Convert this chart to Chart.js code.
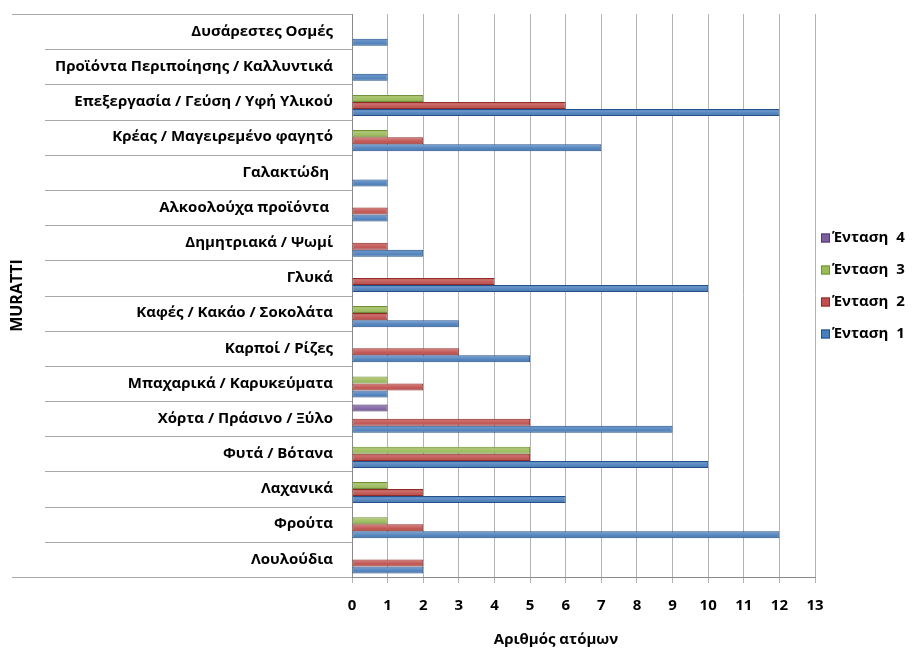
<!DOCTYPE html>
<html>
<head>
<meta charset="utf-8">
<script src="https://cdn.jsdelivr.net/npm/chart.js@4.4.1/dist/chart.umd.min.js"></script>
<style>
  html, body { margin: 0; padding: 0; background: #ffffff; }
  #wrap { width: 913px; height: 657px; }
</style>
</head>
<body>
<div id="wrap"><canvas id="c" width="913" height="657"></canvas></div>
<script>
// Odour categories, listed top to bottom
const categories = [
  'Δυσάρεστες Οσμές',
  'Προϊόντα Περιποίησης / Καλλυντικά',
  'Επεξεργασία / Γεύση / Υφή Υλικού',
  'Κρέας / Μαγειρεμένο φαγητό',
  'Γαλακτώδη ',
  'Αλκοολούχα προϊόντα ',
  'Δημητριακά / Ψωμί',
  'Γλυκά',
  'Καφές / Κακάο / Σοκολάτα',
  'Καρποί / Ρίζες',
  'Μπαχαρικά / Καρυκεύματα',
  'Χόρτα / Πράσινο / Ξύλο',
  'Φυτά / Βότανα',
  'Λαχανικά',
  'Φρούτα',
  'Λουλούδια'
];

// Number of people per intensity level
const entasi1 = [1, 1, 12, 7, 1, 1, 2, 10, 3, 5, 1, 9, 10, 6, 12, 2];
const entasi2 = [0, 0, 6, 2, 0, 1, 1, 4, 1, 3, 2, 5, 5, 2, 2, 2];
const entasi3 = [0, 0, 2, 1, 0, 0, 0, 0, 1, 0, 1, 0, 5, 1, 1, 0];
const entasi4 = [0, 0, 0, 0, 0, 0, 0, 0, 0, 0, 0, 1, 0, 0, 0, 0];

const seriesNames = ['Ένταση  4', 'Ένταση  3', 'Ένταση  2', 'Ένταση  1'];
const xMin = 0;
const xMax = 13;
const xStep = 1;

const yTitle = 'MURATTI';
const xTitle = 'Αριθμός ατόμων';

const FONT = "'Open Sans', 'DejaVu Sans', sans-serif";
const fills   = ['#7d5fa0', '#9bbb59', '#c0504d', '#4a7ebb'];
const borders = ['#4e3a6e', '#71903a', '#8f2c2a', '#24518d'];
const lineGrey = '#a8a8a8';

// Soft shading on bars, outer table lines, legend and x-axis title
const decorations = {
  id: 'decorations',
  afterDatasetsDraw(chart) {
    const ctx = chart.ctx;
    ctx.save();
    chart.data.datasets.forEach((ds, di) => {
      const meta = chart.getDatasetMeta(di);
      meta.data.forEach(bar => {
        const w = bar.x - bar.base;
        if (Math.abs(w) < 0.5) return;
        const top = bar.y - bar.height / 2;
        const g = ctx.createLinearGradient(0, top, 0, top + bar.height);
        g.addColorStop(0, 'rgba(255,255,255,0.0)');
        g.addColorStop(0.3, 'rgba(255,255,255,0.18)');
        g.addColorStop(0.6, 'rgba(255,255,255,0.05)');
        g.addColorStop(1, 'rgba(0,0,0,0.18)');
        ctx.fillStyle = g;
        ctx.fillRect(bar.base + 1, top + 1, w - 2, bar.height - 2);
      });
    });
    ctx.restore();
  },
  afterDraw(chart) {
    const ctx = chart.ctx;
    const area = chart.chartArea;
    const y = chart.scales.y;
    const n = chart.data.labels.length;
    ctx.save();
    ctx.strokeStyle = lineGrey;
    ctx.lineWidth = 1;
    // category separators in the label column
    for (let i = 0; i <= n; i++) {
      let py;
      if (i === 0) py = area.top;
      else if (i === n) py = area.bottom;
      else py = (y.getPixelForValue(i - 1) + y.getPixelForValue(i)) / 2;
      const x0 = (i === 0 || i === n) ? 12 : 45;
      const yy = Math.round(py) + 0.5;
      ctx.beginPath();
      ctx.moveTo(x0, yy);
      ctx.lineTo(area.left, yy);
      ctx.stroke();
    }
    // legend
    ctx.font = 'bold 15px ' + FONT;
    ctx.textBaseline = 'middle';
    ctx.textAlign = 'left';
    chart.data.datasets.forEach((ds, i) => {
      const cy = 238 + i * 32;
      ctx.fillStyle = ds.backgroundColor;
      ctx.fillRect(821, cy - 4.5, 9, 9);
      ctx.strokeStyle = ds.borderColor;
      ctx.strokeRect(821.5, cy - 4, 8, 8);
      ctx.fillStyle = '#000000';
      ctx.fillText(ds.label, 832, cy);
    });
    // x-axis title
    ctx.textAlign = 'center';
    ctx.fillText(xTitle, 556, 640);
    ctx.restore();
  }
};

const seriesData = [entasi4, entasi3, entasi2, entasi1];

new Chart(document.getElementById('c'), {
  type: 'bar',
  data: {
    labels: categories,
    datasets: seriesNames.map((name, i) => ({
      label: name,
      data: seriesData[i],
      backgroundColor: fills[i],
      borderColor: borders[i],
      borderWidth: 1,
      borderSkipped: false,
      categoryPercentage: 0.8,
      barPercentage: 1.0
    }))
  },
  options: {
    indexAxis: 'y',
    responsive: false,
    animation: false,
    layout: { padding: { left: 6, right: 98, top: 14, bottom: 0 } },
    scales: {
      x: {
        min: xMin,
        max: xMax,
        ticks: { stepSize: xStep, color: '#000000', padding: 14,
                 font: { family: FONT, size: 15, weight: 'bold' } },
        grid: { color: '#b3b3b3', tickLength: 6, drawTicks: true },
        border: { color: '#8a8a8a' },
        afterFit: s => { s.height = 80; }
      },
      y: {
        ticks: { color: '#000000', padding: 0, autoSkip: false,
                 font: { family: FONT, size: 15, weight: 'bold' } },
        grid: { display: false, drawTicks: true, tickLength: 19 },
        border: { display: true, color: '#8a8a8a' },
        title: { display: true, text: yTitle, color: '#000000',
                 padding: { top: 2, bottom: 0 },
                 font: { family: FONT, size: 16, weight: 'bold' } },
        afterFit: s => { s.width = 346; }
      }
    },
    plugins: {
      legend: { display: false },
      tooltip: { enabled: false }
    }
  },
  plugins: [decorations]
});
</script>
</body>
</html>
